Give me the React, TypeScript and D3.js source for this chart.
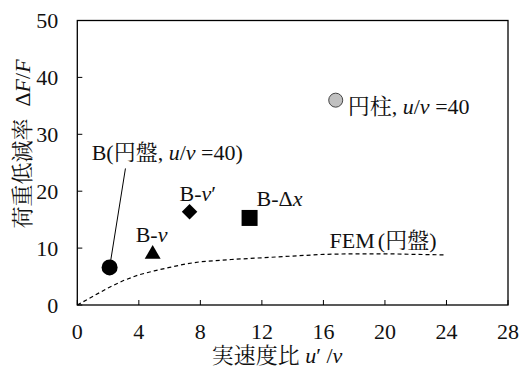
import React from 'react';
import * as d3 from 'd3';

const xTicks = [0, 4, 8, 12, 16, 20, 24, 28];
const yTicks = [0, 10, 20, 30, 40, 50];

const markerNames = ['B(円盤)', 'B-v', "B-v'", 'B-Δx', '円柱'];
const markerX = [2.1, 4.9, 7.3, 11.2, 16.8];
const markerY = [6.6, 9.1, 16.4, 15.3, 36.0];

const femX = [0, 1, 2, 3, 4, 5, 6, 7, 8, 10, 12, 14, 16, 18, 20, 22, 24];
const femY = [0, 1.5, 3.0, 4.3, 5.3, 6.0, 6.6, 7.2, 7.6, 8.0, 8.3, 8.6, 8.9, 9.0, 9.0, 8.9, 8.8];

const W = 521;
const H = 369;
const L = 77.3, R = 508, T = 20.5, B = 305;
const FS = 22;

const J = ({ children }: { children: React.ReactNode }) => (
  <tspan fontFamily="Noto Serif CJK JP">{children}</tspan>
);
const I = ({ children }: { children: React.ReactNode }) => (
  <tspan fontStyle="italic">{children}</tspan>
);

const Txt = (props: any) => (
  <text fontSize={FS} fill="#111" fontFamily="Liberation Serif" {...props} />
);

export default function App() {
  const x = d3.scaleLinear().domain([0, 28]).range([L, R]);
  const y = d3.scaleLinear().domain([0, 50]).range([B, T]);
  const line = d3.line<number>().x((_, i) => x(femX[i])).y((d) => y(d));
  const femPath = line(femY) || '';

  const px = markerX.map((v) => x(v));
  const py = markerY.map((v) => y(v));

  const tri = d3.symbol().type(d3.symbolTriangle).size(110)() || '';
  const dia = d3.symbol().type(d3.symbolSquare).size(120)() || '';

  return (
    <svg width={W} height={H} style={{ position: 'absolute', left: 0, top: 0, background: '#fff' }}>
      <rect x={0} y={0} width={W} height={H} fill="#fff" />
      <rect x={L} y={T} width={R - L} height={B - T} fill="none" stroke="#000" strokeWidth={1.3} />
      {xTicks.map((t) => (
        <g key={'x' + t}>
          <line x1={x(t)} x2={x(t)} y1={B} y2={B - 5} stroke="#000" strokeWidth={1} />
          <Txt x={x(t)} y={B + 34} textAnchor="middle">{t}</Txt>
        </g>
      ))}
      {yTicks.map((t) => (
        <g key={'y' + t}>
          <line x1={L} x2={L + 5} y1={y(t)} y2={y(t)} stroke="#000" strokeWidth={1} />
          <Txt x={L - 19} y={y(t) + 7.5} textAnchor="end">{t}</Txt>
        </g>
      ))}
      <Txt x={277} y={363} textAnchor="middle">
        <J>実速度比</J> <I>u</I>′ /<I>v</I>
      </Txt>
      <Txt transform={`translate(30,144) rotate(-90)`} textAnchor="middle">
        <J>荷重低減率</J><tspan dx={12}>Δ</tspan><I>F</I>/<I>F</I>
      </Txt>

      <path d={femPath} fill="none" stroke="#000" strokeWidth={1.2} strokeDasharray="4,3" />
      <Txt x={x(16.4)} y={y(9) - 6} textAnchor="start">
        FEM<tspan dx={3}>(</tspan><J>円盤</J>)
      </Txt>

      <line x1={px[0]} y1={py[0]} x2={x(3.13)} y2={y(24)} stroke="#000" strokeWidth={1} />

      <circle cx={px[0]} cy={py[0]} r={8} fill="#000" />
      <path d={tri} transform={`translate(${px[1]},${py[1] + 1})`} fill="#000" />
      <path d={dia} transform={`translate(${px[2]},${py[2]}) rotate(45)`} fill="#000" />
      <rect x={px[3] - 8} y={py[3] - 8} width={16} height={16} fill="#000" />
      <circle cx={px[4]} cy={py[4]} r={7} fill="#c0c0c0" stroke="#444" strokeWidth={1} />

      <Txt x={91.7} y={160}>
        B(<J>円盤</J>, <I>u</I>/<I>v</I> =40)
      </Txt>
      <Txt x={px[1] - 17} y={py[1] - 11.4}>
        B-<I>v</I>
      </Txt>
      <Txt x={px[2] - 10} y={py[2] - 10.5}>
        B-<I>v</I>′
      </Txt>
      <Txt x={px[3] + 7} y={py[3] - 12}>
        B-Δ<I>x</I>
      </Txt>
      <Txt x={px[4] + 12} y={py[4] + 13.5}>
        <J>円柱</J>, <I>u</I>/<I>v</I> =40
      </Txt>
    </svg>
  );
}
